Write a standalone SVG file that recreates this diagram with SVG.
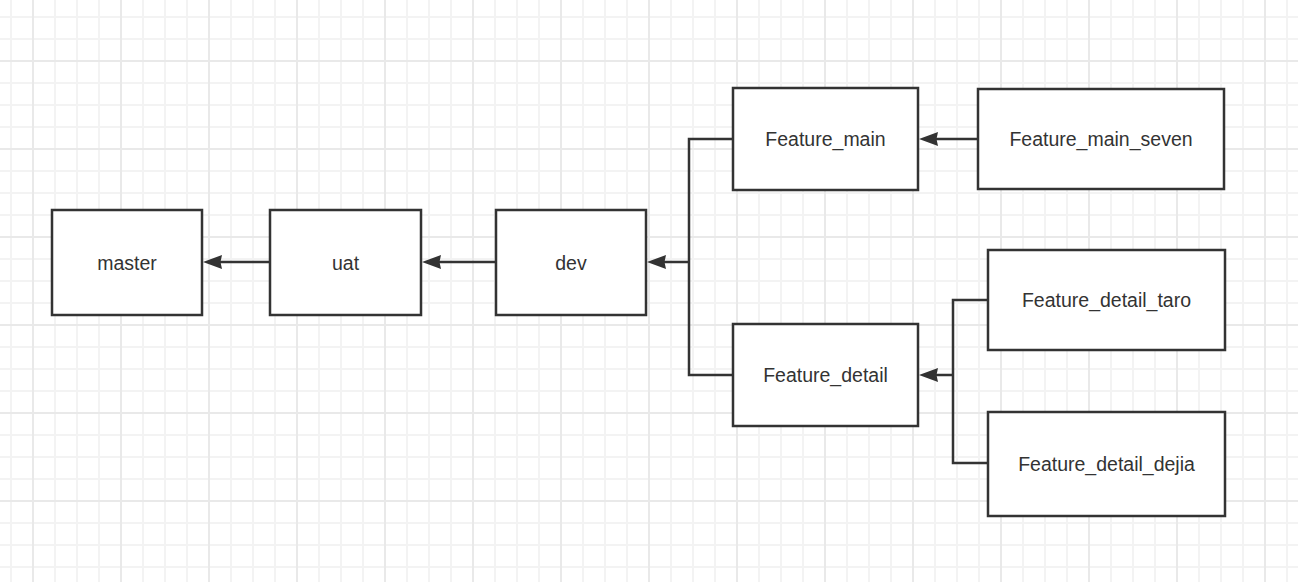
<svg xmlns="http://www.w3.org/2000/svg" width="1298" height="582" viewBox="0 0 1298 582">
<defs>
<pattern id="minor" x="0" y="0" width="22" height="22" patternUnits="userSpaceOnUse">
<path d="M11 0V22M0 17H22" stroke="#f3f3f3" stroke-width="2" fill="none"/>
</pattern>
<pattern id="major" x="0" y="0" width="88" height="88" patternUnits="userSpaceOnUse">
<path d="M33 0V88M0 61H88" stroke="#e9e9e9" stroke-width="2" fill="none"/>
</pattern>
<path id="ah" d="M0 0L19 -7L17.5 0L19 7Z" fill="#333"/>
</defs>
<style>
.node rect{fill:#fff;stroke:#333;stroke-width:2.5}
.node text{font-family:"Liberation Sans",Arial,sans-serif;font-size:19.5px;fill:#333;text-anchor:middle;dominant-baseline:central}
.edge{fill:none;stroke:#333;stroke-width:2.5}
</style>
<rect width="1298" height="582" fill="#fff"/>
<rect width="1298" height="582" fill="url(#minor)"/>
<rect width="1298" height="582" fill="url(#major)"/>
<g id="connectors">
<path class="edge" d="M270 262H218"/>
<use href="#ah" x="203" y="262"/>
<path class="edge" d="M496 262H437"/>
<use href="#ah" x="422" y="262"/>
<path class="edge" d="M733 139H689V375H733M689 262H662"/>
<use href="#ah" x="647" y="262"/>
<path class="edge" d="M978 139H934"/>
<use href="#ah" x="919" y="139"/>
<path class="edge" d="M988 300H953V463H988M953 375H934"/>
<use href="#ah" x="919" y="375"/>
</g>
<g id="master" class="node"><rect x="52" y="210" width="150" height="105"/><text x="127" y="262.5">master</text></g>
<g id="uat" class="node"><rect x="270" y="210" width="151" height="105"/><text x="345.5" y="262.5">uat</text></g>
<g id="dev" class="node"><rect x="496" y="210" width="150" height="105"/><text x="571" y="262.5">dev</text></g>
<g id="feature_main" class="node"><rect x="733" y="88" width="185" height="102"/><text x="825.5" y="139">Feature_main</text></g>
<g id="feature_main_seven" class="node"><rect x="978" y="89" width="246" height="100"/><text x="1101" y="139">Feature_main_seven</text></g>
<g id="feature_detail" class="node"><rect x="733" y="324" width="185" height="102"/><text x="825.5" y="375">Feature_detail</text></g>
<g id="feature_detail_taro" class="node"><rect x="988" y="250" width="237" height="100"/><text x="1106.5" y="300">Feature_detail_taro</text></g>
<g id="feature_detail_dejia" class="node"><rect x="988" y="412" width="237" height="104"/><text x="1106.5" y="463.5">Feature_detail_dejia</text></g>
</svg>
